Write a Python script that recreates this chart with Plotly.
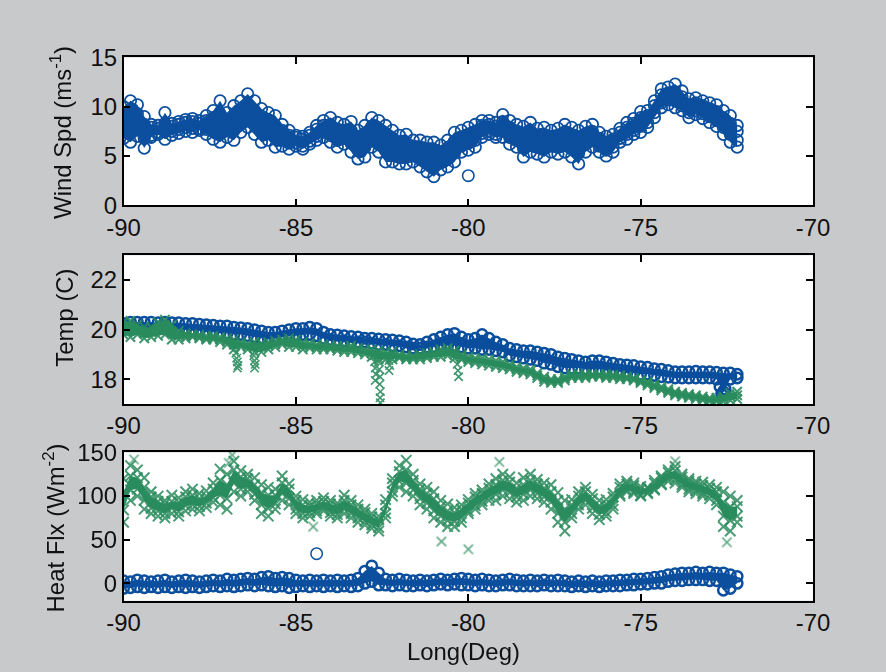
import plotly.graph_objects as go

# ---------------- data ----------------
LON = [-90.0, -89.8, -89.6, -89.4, -89.2, -89.0, -88.8, -88.6, -88.4, -88.2,
       -88.0, -87.8, -87.6, -87.4, -87.2, -87.0, -86.8, -86.6, -86.4, -86.2,
       -86.0, -85.8, -85.6, -85.4, -85.2, -85.0, -84.8, -84.6, -84.4, -84.2,
       -84.0, -83.8, -83.6, -83.4, -83.2, -83.0, -82.8, -82.6, -82.4, -82.2,
       -82.0, -81.8, -81.6, -81.4, -81.2, -81.0, -80.8, -80.6, -80.4, -80.2,
       -80.0, -79.8, -79.6, -79.4, -79.2, -79.0, -78.8, -78.6, -78.4, -78.2,
       -78.0, -77.8, -77.6, -77.4, -77.2, -77.0, -76.8, -76.6, -76.4, -76.2,
       -76.0, -75.8, -75.6, -75.4, -75.2, -75.0, -74.8, -74.6, -74.4, -74.2,
       -74.0, -73.8, -73.6, -73.4, -73.2, -73.0, -72.8, -72.6, -72.4, -72.2]

# Wind speed (m/s), four samples per longitude step
WIND_1 = [10.0, 10.6, 10.2, 9.0, 8.2, 8.1, 9.4, 8.3, 8.5, 8.7,
          8.8, 8.6, 9.1, 9.6, 10.6, 9.4, 10.1, 10.6, 11.3, 10.6,
          9.8, 9.4, 9.1, 8.2, 7.6, 7.1, 7.0, 7.4, 8.1, 8.6,
          8.9, 8.4, 8.2, 8.5, 7.6, 8.1, 8.9, 8.6, 8.1, 7.6,
          7.1, 7.2, 6.6, 6.6, 6.4, 6.4, 6.1, 6.6, 7.4, 7.6,
          7.9, 8.2, 8.6, 8.6, 8.4, 9.2, 8.6, 8.2, 8.0, 8.4,
          7.8, 7.9, 7.6, 7.8, 8.2, 7.9, 7.6, 8.0, 8.2, 7.4,
          7.0, 7.2, 7.8, 8.4, 8.8, 9.5, 9.6, 10.6, 11.8, 12.0,
          12.3, 11.6, 10.8, 10.9, 10.6, 10.4, 10.2, 9.6, 9.1, 8.1]
WIND_2 = [9.1, 8.8, 9.3, 8.2, 7.9, 7.8, 8.3, 8.0, 8.2, 8.4,
          8.5, 8.3, 8.6, 8.9, 9.2, 8.7, 9.1, 9.6, 10.2, 9.6,
          8.8, 8.6, 8.1, 7.6, 7.1, 6.9, 6.7, 7.1, 7.7, 8.1,
          8.2, 7.7, 7.6, 7.6, 6.8, 7.2, 8.0, 7.6, 7.0, 6.6,
          6.2, 6.3, 6.0, 5.8, 5.5, 5.3, 5.3, 5.8, 6.5, 6.9,
          7.2, 7.5, 8.1, 8.2, 8.0, 8.5, 7.9, 7.5, 7.1, 7.5,
          7.0, 7.0, 7.0, 7.0, 7.4, 7.0, 6.6, 7.2, 7.5, 6.8,
          6.4, 6.7, 7.4, 7.9, 8.3, 8.9, 9.1, 10.1, 11.2, 11.4,
          11.5, 11.0, 10.2, 10.4, 10.1, 9.8, 9.5, 8.9, 8.3, 7.5]
WIND_3 = [7.7, 7.6, 7.9, 6.8, 7.1, 7.4, 7.5, 7.5, 7.7, 7.9,
          7.8, 7.8, 7.7, 7.5, 7.6, 7.7, 7.6, 8.3, 8.8, 8.2,
          7.4, 7.4, 6.9, 6.6, 6.3, 6.3, 6.0, 6.5, 7.0, 7.4,
          7.1, 6.6, 6.8, 6.3, 5.6, 5.9, 6.8, 6.4, 5.6, 5.4,
          5.1, 5.1, 5.0, 4.7, 4.3, 4.0, 4.3, 4.7, 5.3, 6.0,
          6.3, 6.6, 7.3, 7.5, 7.2, 7.5, 6.9, 6.6, 5.8, 6.3,
          5.9, 5.8, 6.0, 5.9, 6.2, 5.8, 5.3, 6.2, 6.6, 6.0,
          5.6, 5.9, 6.8, 7.2, 7.6, 8.0, 8.4, 9.4, 10.4, 10.7,
          10.6, 10.1, 9.4, 9.6, 9.3, 9.0, 8.6, 7.9, 7.2, 6.6]
WIND_4 = [6.8, 6.4, 7.0, 5.8, 6.9, 7.2, 6.7, 7.1, 7.3, 7.5,
          7.4, 7.6, 7.2, 6.7, 6.4, 6.9, 6.6, 7.4, 7.9, 7.2,
          6.4, 6.6, 5.9, 6.0, 5.7, 6.0, 5.7, 6.2, 6.6, 6.9,
          6.4, 5.9, 6.2, 5.4, 4.7, 4.9, 5.9, 5.4, 4.4, 4.4,
          4.2, 4.2, 4.4, 3.9, 3.4, 2.9, 3.6, 3.9, 4.4, 5.4,
          5.6, 5.9, 6.9, 7.2, 6.9, 6.9, 6.2, 5.9, 4.9, 5.4,
          5.2, 4.9, 5.4, 5.2, 5.4, 4.9, 4.2, 5.4, 5.9, 5.4,
          5.0, 5.4, 6.4, 6.7, 7.2, 7.4, 7.9, 8.9, 9.9, 10.2,
          9.9, 9.6, 8.9, 9.2, 8.8, 8.4, 8.0, 7.2, 6.4, 5.9]
WIND_OUT_LON = [-80.0]
WIND_OUT = [3.0]

# Temperature (C): blue circles (upper and lower edge of the band)
TEMP_B1 = [20.25, 20.3, 20.3, 20.3, 20.3, 20.28, 20.3, 20.28, 20.28, 20.25,
           20.25, 20.22, 20.2, 20.18, 20.15, 20.15, 20.1, 20.08, 20.05, 20.0,
           19.95, 19.9, 19.9, 19.95, 20.0, 20.05, 20.05, 20.1, 20.05, 19.9,
           19.8, 19.78, 19.75, 19.72, 19.7, 19.65, 19.65, 19.62, 19.6, 19.58,
           19.55, 19.5, 19.42, 19.4, 19.5, 19.6, 19.7, 19.8, 19.85, 19.7,
           19.6, 19.65, 19.8, 19.65, 19.5, 19.4, 19.25, 19.2, 19.15, 19.15,
           19.1, 19.05, 19.0, 18.9, 18.85, 18.8, 18.75, 18.7, 18.75, 18.75,
           18.7, 18.65, 18.6, 18.58, 18.55, 18.5, 18.48, 18.42, 18.4, 18.35,
           18.3, 18.3, 18.3, 18.32, 18.3, 18.3, 18.28, 18.25, 18.25, 18.2]
TEMP_B2 = [20.0, 20.0, 20.05, 20.05, 20.05, 20.05, 20.05, 20.0, 20.0, 20.0,
           19.95, 19.95, 19.9, 19.9, 19.85, 19.85, 19.8, 19.8, 19.75, 19.7,
           19.65, 19.6, 19.65, 19.7, 19.75, 19.75, 19.8, 19.8, 19.75, 19.65,
           19.6, 19.55, 19.55, 19.5, 19.5, 19.5, 19.45, 19.4, 19.4, 19.35,
           19.35, 19.3, 19.25, 19.25, 19.3, 19.3, 19.35, 19.35, 19.35, 19.3,
           19.25, 19.25, 19.2, 19.2, 19.15, 19.1, 18.95, 18.9, 18.85, 18.8,
           18.75, 18.65, 18.6, 18.5, 18.45, 18.45, 18.45, 18.4, 18.4, 18.4,
           18.35, 18.35, 18.3, 18.25, 18.25, 18.2, 18.2, 18.15, 18.1, 18.08,
           18.05, 18.05, 18.05, 18.05, 18.05, 18.05, 18.0, 17.5, 18.0, 18.05]
TEMP_B_EXTRA_LON = [-72.7, -72.65, -72.55]
TEMP_B_EXTRA = [17.7, 17.4, 17.6]

# Temperature (C): green crosses
TEMP_G1 = [20.3, 20.35, 20.2, 20.1, 20.1, 20.3, 20.4, 20.2, 19.95, 19.85,
           19.8, 19.8, 19.75, 19.75, 19.7, 19.65, 19.6, 19.5, 19.45, 19.5,
           19.45, 19.5, 19.55, 19.6, 19.65, 19.6, 19.5, 19.45, 19.4, 19.4,
           19.35, 19.35, 19.3, 19.35, 19.25, 19.2, 19.2, 19.15, 19.1, 19.1,
           19.0, 18.95, 18.95, 19.0, 19.05, 19.1, 19.2, 19.25, 19.15, 19.0,
           18.9, 18.85, 18.85, 18.8, 18.75, 18.7, 18.6, 18.5, 18.45, 18.4,
           18.25, 18.1, 18.0, 18.0, 18.1, 18.2, 18.2, 18.2, 18.2, 18.2,
           18.2, 18.18, 18.15, 18.1, 18.05, 17.95, 17.9, 17.8, 17.7, 17.6,
           17.5, 17.45, 17.4, 17.35, 17.3, 17.25, 17.25, 17.3, 17.45, 17.5]
TEMP_G2 = [20.05, 20.0, 19.95, 19.85, 19.9, 20.0, 20.1, 19.9, 19.75, 19.75,
           19.75, 19.7, 19.65, 19.68, 19.6, 19.52, 19.4, 19.4, 19.32, 19.3,
           19.28, 19.35, 19.42, 19.5, 19.48, 19.45, 19.35, 19.35, 19.3, 19.3,
           19.28, 19.25, 19.2, 19.22, 19.15, 19.1, 19.05, 18.98, 18.95, 18.95,
           18.92, 18.88, 18.88, 18.9, 18.95, 19.0, 19.05, 19.1, 19.0, 18.9,
           18.8, 18.75, 18.72, 18.68, 18.62, 18.58, 18.5, 18.4, 18.35, 18.3,
           18.15, 18.0, 17.92, 17.92, 18.02, 18.12, 18.12, 18.12, 18.15, 18.15,
           18.12, 18.1, 18.08, 18.05, 18.0, 17.9, 17.82, 17.72, 17.62, 17.52,
           17.42, 17.38, 17.32, 17.28, 17.22, 17.18, 17.18, 17.2, 17.3, 17.35]
TEMP_G3 = [19.8, 19.7, 19.8, 19.65, 19.7, 19.75, 19.8, 19.6, 19.6, 19.65,
           19.7, 19.65, 19.6, 19.6, 19.5, 19.4, 19.2, 19.3, 19.2, 19.1,
           19.1, 19.2, 19.3, 19.4, 19.3, 19.3, 19.2, 19.25, 19.2, 19.2,
           19.2, 19.15, 19.1, 19.1, 19.05, 19.0, 18.9, 18.8, 18.8, 18.8,
           18.85, 18.8, 18.8, 18.8, 18.85, 18.9, 18.9, 18.95, 18.85, 18.8,
           18.7, 18.65, 18.6, 18.55, 18.5, 18.45, 18.4, 18.3, 18.25, 18.2,
           18.05, 17.9, 17.85, 17.85, 17.95, 18.05, 18.05, 18.05, 18.1, 18.1,
           18.05, 18.05, 18.0, 18.0, 17.95, 17.85, 17.75, 17.65, 17.55, 17.45,
           17.35, 17.3, 17.25, 17.2, 17.15, 17.1, 17.1, 17.1, 17.15, 17.2]
TEMP_SPIKE_LON = [-86.74, -86.72, -86.7, -86.68, -86.7, -86.22, -86.2, -86.18, -86.2,
                  -82.74, -82.72, -82.7, -82.68, -82.7, -82.6, -82.58, -82.56, -82.57,
                  -82.55, -82.56, -82.55, -82.3, -82.28, -82.3, -80.32, -80.3, -80.28]
TEMP_SPIKE = [19.05, 18.85, 18.7, 18.55, 18.45, 18.95, 18.75, 18.6, 18.45,
              18.95, 18.7, 18.45, 18.2, 17.95, 18.7, 18.4, 18.1, 17.8,
              17.5, 17.25, 17.05, 18.75, 18.55, 18.35, 18.6, 18.35, 18.1]

# Heat flux (W/m2): blue circles
HEAT_B1 = [3, 2, 4, 3, 2, 3, 4, 2, 3, 4,
           3, 2, 3, 4, 3, 5, 4, 5, 6, 5,
           7, 8, 6, 7, 6, 4, 3, 4, 3, 4,
           3, 4, 3, 4, 6, 14, 20, 12, 5, 4,
           5, 4, 3, 4, 3, 4, 5, 4, 5, 6,
           5, 4, 5, 4, 3, 4, 5, 4, 3, 4,
           3, 4, 3, 4, 3, 2, 3, 2, 3, 2,
           3, 3, 4, 4, 5, 5, 6, 7, 8, 10,
           11, 12, 12, 13, 12, 13, 12, 12, 10, 8]
HEAT_B2 = [-6, -5, -4, -5, -4, -5, -4, -5, -4, -5,
           -4, -5, -4, -3, -4, -3, -4, -3, -2, -3,
           -2, -3, -4, -3, -5, -4, -3, -4, -3, -4,
           -3, -4, -3, -4, -3, 0, 2, -2, -2, -3,
           -2, -3, -3, -2, -3, -2, -1, -2, -1, -2,
           -2, -3, -2, -3, -3, -2, -2, -3, -3, -3,
           -3, -2, -3, -3, -3, -4, -3, -4, -3, -4,
           -3, -3, -3, -2, -2, -1, -1, 0, 0, 2,
           3, 3, 4, 4, 4, 3, 3, -8, -6, 0]
HEAT_B_OUT_LON = [-84.4]
HEAT_B_OUT = [34]

# Heat flux (W/m2): green crosses
HEAT_G1 = [120, 135, 130, 121, 105, 100, 95, 101, 98, 105,
           108, 103, 106, 115, 131, 125, 140, 129, 125, 121,
           113, 110, 108, 123, 114, 100, 96, 93, 95, 98,
           95, 92, 101, 95, 90, 85, 80, 77, 96, 120,
           135, 141, 125, 114, 110, 105, 95, 91, 87, 90,
           96, 103, 107, 114, 120, 125, 122, 115, 121, 125,
           119, 115, 113, 104, 95, 96, 105, 110, 102, 95,
           96, 103, 114, 117, 115, 111, 110, 118, 123, 130,
           134, 125, 120, 117, 116, 113, 110, 105, 100, 95]
HEAT_G2 = [105, 123, 121, 110, 99, 94, 91, 94, 93, 99,
           101, 97, 100, 108, 118, 113, 130, 122, 120, 113,
           104, 101, 101, 115, 108, 95, 90, 89, 91, 94,
           91, 89, 95, 90, 85, 81, 76, 73, 90, 115,
           128, 130, 118, 108, 103, 97, 88, 83, 81, 85,
           92, 99, 103, 109, 113, 118, 116, 109, 113, 118,
           114, 109, 105, 95, 85, 90, 100, 105, 97, 89,
           91, 99, 110, 114, 112, 108, 109, 115, 121, 127,
           129, 122, 117, 114, 112, 109, 105, 93, 88, 88]
HEAT_G3 = [84, 107, 108, 95, 86, 83, 80, 86, 82, 89,
           90, 88, 92, 98, 101, 97, 115, 108, 110, 102,
           90, 86, 91, 103, 97, 85, 80, 81, 83, 86,
           81, 79, 85, 80, 75, 71, 67, 64, 80, 105,
           117, 115, 107, 97, 92, 83, 77, 72, 71, 75,
           83, 89, 94, 99, 102, 107, 104, 99, 102, 107,
           103, 99, 93, 80, 70, 80, 90, 95, 86, 79,
           81, 89, 102, 107, 105, 101, 104, 108, 114, 120,
           119, 113, 108, 106, 103, 101, 95, 77, 72, 77]
HEAT_G4 = [70, 95, 100, 85, 80, 77, 75, 80, 77, 83,
           85, 83, 87, 93, 90, 85, 105, 100, 105, 95,
           80, 77, 85, 95, 90, 80, 75, 77, 80, 83,
           77, 75, 80, 75, 70, 67, 63, 60, 75, 100,
           110, 105, 100, 90, 85, 75, 70, 65, 65, 70,
           80, 85, 90, 95, 95, 100, 97, 93, 95, 100,
           97, 93, 85, 70, 60, 75, 85, 90, 80, 73,
           77, 85, 100, 105, 103, 100, 103, 107, 113, 117,
           115, 110, 105, 103, 100, 97, 90, 65, 60, 70]
HEAT_G_OUT_LON = [-89.7, -86.95, -86.85, -84.5, -80.78, -80.0, -79.1, -74.0, -72.5]
HEAT_G_OUT = [142, 138, 147, 65, 48, 39, 139, 140, 47]

# axis ticks
X_TICKS = [-90, -85, -80, -75, -70]
X_TICK_TEXT = ["-90", "-85", "-80", "-75", "-70"]
WIND_TICKS = [0, 5, 10, 15]
TEMP_TICKS = [18, 20, 22]
HEAT_TICKS = [0, 50, 100, 150]

# ---------------- styling ----------------
BLUE = "#0c4f9e"
GREEN = "#2b8c5e"
GREY = "#c8c9cb"
FONT = "Liberation Sans, Arial, sans-serif"
W, H = 886, 672

# the page shows the figure slightly reduced and centred; place things so that
# they land where the reference has them
S = 0.961
OX, OY = 17.5, 13.5
FS = round(23 / S, 1)

fig = go.Figure()


def circles(xs, ys, xa, ya, size=11, lw=1.5):
    fig.add_trace(go.Scatter(
        x=xs, y=ys, mode="markers", xaxis=xa, yaxis=ya,
        marker=dict(symbol="circle-open", size=size / S, color=BLUE,
                    line=dict(width=lw, color=BLUE)),
        showlegend=False, hoverinfo="skip"))


def crosses(xs, ys, xa, ya, size=8, lw=1.5, op=0.9):
    fig.add_trace(go.Scatter(
        x=xs, y=ys, mode="markers", xaxis=xa, yaxis=ya,
        marker=dict(symbol="x-thin", size=size / S, color=GREEN,
                    line=dict(width=lw, color=GREEN)),
        opacity=op, showlegend=False, hoverinfo="skip"))


def core(xs, upper, lower, xa, ya, color, op=1.0):
    # dense overlapping markers render as a solid band between two sample rows
    fig.add_trace(go.Scatter(x=xs, y=lower, mode="lines", line=dict(width=0, color=color),
                             xaxis=xa, yaxis=ya, showlegend=False, hoverinfo="skip"))
    fig.add_trace(go.Scatter(x=xs, y=upper, mode="lines", line=dict(width=0, color=color),
                             fill="tonexty", fillcolor=color, opacity=op,
                             xaxis=xa, yaxis=ya, showlegend=False, hoverinfo="skip"))


# wind speed
core(LON, WIND_1, WIND_4, "x", "y", BLUE, op=0.9)
for series in (WIND_1, WIND_2, WIND_3, WIND_4):
    circles(LON, series, "x", "y", lw=1.8)
circles(WIND_OUT_LON, WIND_OUT, "x", "y", lw=1.6)

# temperature
core(LON, TEMP_B1, TEMP_B2, "x2", "y2", BLUE)
for series in (TEMP_B1, TEMP_B2):
    circles(LON, series, "x2", "y2", size=10, lw=2.5)
circles(TEMP_B_EXTRA_LON, TEMP_B_EXTRA, "x2", "y2", size=10, lw=2.5)
core(LON, TEMP_G1, TEMP_G3, "x2", "y2", GREEN, op=0.8)
for series in (TEMP_G1, TEMP_G2, TEMP_G3):
    crosses(LON, series, "x2", "y2", size=9, lw=2)
crosses(TEMP_SPIKE_LON, TEMP_SPIKE, "x2", "y2", size=8, lw=1.6)

# heat flux
core(LON, HEAT_B1, HEAT_B2, "x3", "y3", BLUE)
for series in (HEAT_B1, HEAT_B2):
    circles(LON, series, "x3", "y3", size=10, lw=2.5)
circles(HEAT_B_OUT_LON, HEAT_B_OUT, "x3", "y3", size=11, lw=1.5)
core(LON, HEAT_G2, HEAT_G3, "x3", "y3", GREEN, op=0.55)
for series in (HEAT_G1, HEAT_G2, HEAT_G3, HEAT_G4):
    crosses(LON, series, "x3", "y3", size=10, lw=2, op=0.85)
crosses(HEAT_G_OUT_LON, HEAT_G_OUT, "x3", "y3", size=9, lw=1.6, op=0.75)


def px_x(p):
    return min(1.0, max(0.0, (p - OX) / S / W))


def px_y(p):
    return min(1.0, max(0.0, 1 - (p - OY) / S / H))


common_axis = dict(showgrid=False, zeroline=False, showline=True, linecolor="black",
                   linewidth=1.5, mirror="ticks", ticks="inside", ticklen=7,
                   tickcolor="black", tickwidth=1.5,
                   tickfont=dict(family=FONT, size=FS, color="#111111"))

x_dom = [px_x(124), px_x(813)]
panels = [  # (top px, bottom px, range, ticks)
    (57, 205, [0, 15], WIND_TICKS),
    (255, 404, [17, 23], TEMP_TICKS),
    (452.5, 601, [-20, 150], HEAT_TICKS),
]
layout = {}
for k, (top, bot, rng, yt) in enumerate(panels):
    sfx = "" if k == 0 else str(k + 1)
    layout["xaxis" + sfx] = dict(common_axis, domain=x_dom, range=[-90, -70],
                                 anchor="y" + sfx, tickvals=X_TICKS, ticktext=X_TICK_TEXT,
                                 ticklabelstandoff=0)
    layout["yaxis" + sfx] = dict(common_axis, domain=[px_y(bot), px_y(top)], range=rng,
                                 anchor="x" + sfx, tickvals=yt, ticktext=[str(v) for v in yt],
                                 ticklabelstandoff=0)

fig.update_layout(
    width=W, height=H, margin=dict(l=0, r=0, t=0, b=0),
    paper_bgcolor=GREY, plot_bgcolor="white",
    font=dict(family=FONT, size=FS, color="#111111"),
    **layout,
)

titles = [
    ("Wind Spd (ms<sup>-1</sup>)", 62, 132),
    ("Temp (C)", 65, 318),
    ("Heat Flx (Wm<sup>-2</sup>)", 54, 528),
]
for text, cx, cy in titles:
    fig.add_annotation(text=text, xref="paper", yref="paper", x=px_x(cx), y=px_y(cy),
                       textangle=-90, showarrow=False, xanchor="center", yanchor="middle",
                       font=dict(family=FONT, size=FS, color="#111111"))
fig.add_annotation(text="Long(Deg)", xref="paper", yref="paper", x=px_x(464), y=px_y(652),
                   showarrow=False, xanchor="center", yanchor="middle",
                   font=dict(family=FONT, size=FS, color="#111111"))

page_bg = ("linear-gradient(#ffffff,#ffffff) left top / 100%% 6px no-repeat, "
           "linear-gradient(#ffffff,#ffffff) left top / 10px 100%% no-repeat, %s" % GREY)
fig.write_html(
    "out.html",
    post_script=("document.documentElement.style.background='%s';"
                 "document.body.style.background='transparent';"
                 "document.body.style.margin='0';" % page_bg),
)
